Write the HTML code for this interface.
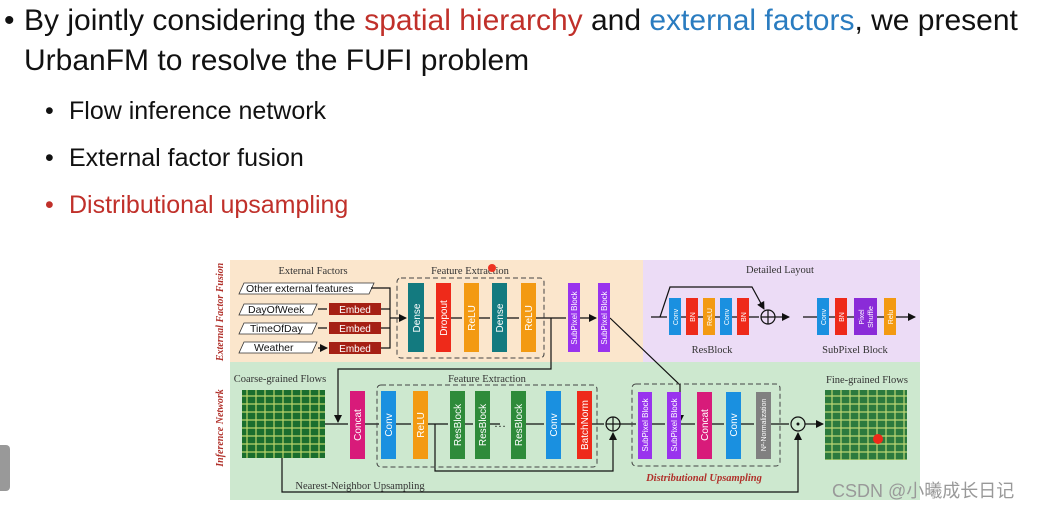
<!DOCTYPE html>
<html><head><meta charset="utf-8"><style>
body{margin:0;width:1038px;height:509px;background:#fff;overflow:hidden;position:relative;font-family:"Liberation Sans",sans-serif}
.t{position:absolute;white-space:nowrap;color:#111}
</style></head><body>
<div class="t" style="left:4px;top:4px;font-size:30px">•</div>
<div class="t" style="left:24px;top:4px;font-size:30px">By jointly considering the <span style="color:#c0302a">spatial hierarchy</span> and <span style="color:#2a7cc0">external factors</span>, we present</div>
<div class="t" style="left:24px;top:44px;font-size:30px">UrbanFM to resolve the FUFI problem</div>
<div class="t" style="left:45px;top:97px;font-size:25px">•</div><div class="t" style="left:69px;top:97px;font-size:25px">Flow inference network</div>
<div class="t" style="left:45px;top:144px;font-size:25px">•</div><div class="t" style="left:69px;top:144px;font-size:25px">External factor fusion</div>
<div class="t" style="left:45px;top:191px;font-size:25px;color:#c0302a">•</div><div class="t" style="left:69px;top:191px;font-size:25px;color:#c0302a">Distributional upsampling</div>
<div style="position:absolute;left:0;top:445px;width:10px;height:46px;background:#999;border-radius:0 4px 4px 0"></div>
<svg width="1038" height="509" style="position:absolute;left:0;top:0" font-family="Liberation Serif,serif">
<defs>
<marker id="a" markerWidth="8" markerHeight="8" refX="7" refY="4" orient="auto" markerUnits="userSpaceOnUse"><path d="M0,0L8,4L0,8z" fill="#111"/></marker>
<pattern id="g" width="9" height="8" patternUnits="userSpaceOnUse"><rect width="9" height="8" fill="#1a6e2e"/><path d="M0,4H9M4,0V8" stroke="#b9d46a" stroke-width="1.2"/></pattern>
</defs>
<rect x="230" y="260" width="413" height="102" fill="#fbe6cc"/>
<rect x="643" y="260" width="277" height="102" fill="#ecdcf6"/>
<rect x="230" y="362" width="690" height="138" fill="#cde8cf"/>
<g font-style="italic" font-weight="bold" fill="#b0302a" font-size="10">
<text transform="translate(223,312) rotate(-90)" text-anchor="middle">External Factor Fusion</text>
<text transform="translate(223,428) rotate(-90)" text-anchor="middle">Inference Network</text>
</g>
<g font-size="10.5" fill="#333" text-anchor="middle">
<text x="313" y="274">External Factors</text>
<text x="470" y="274">Feature Extraction</text>
<text x="780" y="273">Detailed Layout</text>
<text x="712" y="353">ResBlock</text>
<text x="855" y="353">SubPixel Block</text>
<text x="487" y="382">Feature Extraction</text>
<text x="280" y="382">Coarse-grained Flows</text>
<text x="867" y="383">Fine-grained Flows</text>
<text x="360" y="489">Nearest-Neighbor Upsampling</text>
<text x="704" y="481" fill="#b0302a" font-style="italic" font-weight="bold">Distributional Upsampling</text>
</g>
<g stroke="#333" fill="#fff" stroke-width="0.8">
<path d="M244,283H374L369,294H239z"/><path d="M244,304H317L312,315H239z"/><path d="M244,323H317L312,334H239z"/><path d="M244,342H317L312,353H239z"/>
</g>
<g font-family="Liberation Sans,sans-serif" font-size="10.5" fill="#111">
<text x="246" y="292">Other external features</text><text x="248" y="313">DayOfWeek</text><text x="250" y="332">TimeOfDay</text><text x="254" y="351">Weather</text>
</g>
<g fill="#a52014"><rect x="329" y="303" width="52" height="12"/><rect x="329" y="322" width="52" height="12"/><rect x="329" y="342" width="52" height="12"/></g>
<g fill="#fff" font-family="Liberation Sans,sans-serif" font-size="10" text-anchor="middle"><text x="355" y="313">Embed</text><text x="355" y="332">Embed</text><text x="355" y="352">Embed</text></g>
<g stroke="#111" stroke-width="1.2" fill="none">
<path d="M318,309H327M318,328H327M318,348H327" marker-end="url(#a)"/>
<path d="M371,288H390V348H381M381,309H390M381,328H390"/>
<path d="M390,318H406" marker-end="url(#a)"/>
<path d="M424,318H434M451,318H462M479,318H490M507,318H519M536,318H566M580,318H596" marker-end="url(#a)"/>
<path d="M551,318V369H338V422" marker-end="url(#a)"/>
<path d="M610,318L680,385V422" marker-end="url(#a)"/>
<path d="M651,317H667M681,317H686M698,317H703M715,317H720M732,317H737M749,317H759" />
<path d="M660,317L670,287H752L764,309" marker-end="url(#a)"/>
<path d="M775,317H789" marker-end="url(#a)"/>
<path d="M803,317H915" marker-end="url(#a)"/>
<path d="M325,424H348M365,424H379M396,424H411M428,424H448M465,424H473M490,424H500M526,424H544M561,424H575M592,424H604M620,424H636M652,424H665M681,424H695M712,424H724M741,424H754M771,424H789M805,424H823" marker-end="url(#a)"/>
<path d="M435,424V471H613V433" marker-end="url(#a)"/>
<path d="M282,458V492H798V433" marker-end="url(#a)"/>
<circle cx="768" cy="317" r="7"/><circle cx="613" cy="424" r="7"/><circle cx="798" cy="424" r="7"/>
<path d="M761,317H775M768,310V324M606,424H620M613,417V431"/>
</g>
<circle cx="798" cy="424" r="1.5" fill="#111"/>
<g stroke="#444" stroke-width="1" fill="none" stroke-dasharray="5,3">
<rect x="397" y="278" width="147" height="80" rx="4"/><rect x="377" y="385" width="220" height="82" rx="4"/><rect x="632" y="384" width="148" height="82" rx="4"/>
</g>
<g>
<rect x="408" y="283" width="16" height="69" fill="#137a7f"/><rect x="436" y="283" width="15" height="69" fill="#ee2a1a"/><rect x="464" y="283" width="15" height="69" fill="#f39a12"/><rect x="492" y="283" width="15" height="69" fill="#137a7f"/><rect x="521" y="283" width="15" height="69" fill="#f39a12"/>
<rect x="568" y="283" width="12" height="69" fill="#9933ee"/><rect x="598" y="283" width="12" height="69" fill="#9933ee"/>
<rect x="669" y="298" width="12" height="37" fill="#1a90e0"/><rect x="686" y="298" width="12" height="37" fill="#ee2a1a"/><rect x="703" y="298" width="12" height="37" fill="#f39a12"/><rect x="720" y="298" width="12" height="37" fill="#1a90e0"/><rect x="737" y="298" width="12" height="37" fill="#ee2a1a"/>
<rect x="817" y="298" width="12" height="37" fill="#1a90e0"/><rect x="835" y="298" width="12" height="37" fill="#ee2a1a"/><rect x="854" y="298" width="23" height="37" fill="#8a2bd8"/><rect x="884" y="298" width="12" height="37" fill="#f39a12"/>
<rect x="350" y="391" width="15" height="68" fill="#d81b7a"/><rect x="381" y="391" width="15" height="68" fill="#1a90e0"/><rect x="413" y="391" width="15" height="68" fill="#f39a12"/>
<rect x="450" y="391" width="15" height="68" fill="#2e8b3a"/><rect x="475" y="391" width="15" height="68" fill="#2e8b3a"/><rect x="511" y="391" width="15" height="68" fill="#2e8b3a"/>
<rect x="546" y="391" width="15" height="68" fill="#1a90e0"/><rect x="577" y="391" width="15" height="68" fill="#ee2a1a"/>
<rect x="638" y="392" width="14" height="67" fill="#9933ee"/><rect x="667" y="392" width="14" height="67" fill="#9933ee"/><rect x="697" y="392" width="15" height="67" fill="#d81b7a"/><rect x="726" y="392" width="15" height="67" fill="#1a90e0"/><rect x="756" y="392" width="15" height="67" fill="#808080"/>
</g>
<text x="494" y="427" font-size="12" fill="#111">…</text>
<g fill="#fff" font-family="Liberation Sans,sans-serif" font-size="10" text-anchor="middle">
<text transform="translate(420,318) rotate(-90)">Dense</text><text transform="translate(447,318) rotate(-90)">Dropout</text><text transform="translate(475,318) rotate(-90)">ReLU</text><text transform="translate(503,318) rotate(-90)">Dense</text><text transform="translate(532,318) rotate(-90)">ReLU</text>
<text transform="translate(577,318) rotate(-90)" font-size="8">SubPixel Block</text><text transform="translate(607,318) rotate(-90)" font-size="8">SubPixel Block</text>
<g font-size="7"><text transform="translate(678,317) rotate(-90)">Conv</text><text transform="translate(695,317) rotate(-90)">BN</text><text transform="translate(712,317) rotate(-90)">ReLU</text><text transform="translate(729,317) rotate(-90)">Conv</text><text transform="translate(746,317) rotate(-90)">BN</text>
<text transform="translate(826,317) rotate(-90)">Conv</text><text transform="translate(844,317) rotate(-90)">BN</text><text transform="translate(864,317) rotate(-90)">Pixel</text><text transform="translate(873,317) rotate(-90)">Shuffle</text><text transform="translate(893,317) rotate(-90)">Relu</text></g>
<text transform="translate(361,425) rotate(-90)">Concat</text><text transform="translate(392,425) rotate(-90)">Conv</text><text transform="translate(424,425) rotate(-90)">ReLU</text>
<text transform="translate(461,425) rotate(-90)">ResBlock</text><text transform="translate(486,425) rotate(-90)">ResBlock</text><text transform="translate(522,425) rotate(-90)">ResBlock</text>
<text transform="translate(557,425) rotate(-90)">Conv</text><text transform="translate(588,425) rotate(-90)">BatchNorm</text>
<text transform="translate(648,425) rotate(-90)" font-size="8">SubPixel Block</text><text transform="translate(677,425) rotate(-90)" font-size="8">SubPixel Block</text>
<text transform="translate(708,425) rotate(-90)">Concat</text><text transform="translate(737,425) rotate(-90)">Conv</text><text transform="translate(766,425) rotate(-90)" font-size="7">N²-Normalization</text>
</g>
<rect x="242" y="390" width="83" height="68" fill="url(#g)"/>
<rect x="825" y="390" width="82" height="70" fill="url(#g)" opacity="0.9"/>
<circle cx="878" cy="439" r="5" fill="#ee2a1a"/>
<circle cx="492" cy="268" r="4" fill="#ee3322"/>
<text x="832" y="497" font-family="Liberation Sans,Noto Sans CJK SC,sans-serif" font-size="18" fill="#999">CSDN @小曦成长日记</text>
</svg>
</body></html>
